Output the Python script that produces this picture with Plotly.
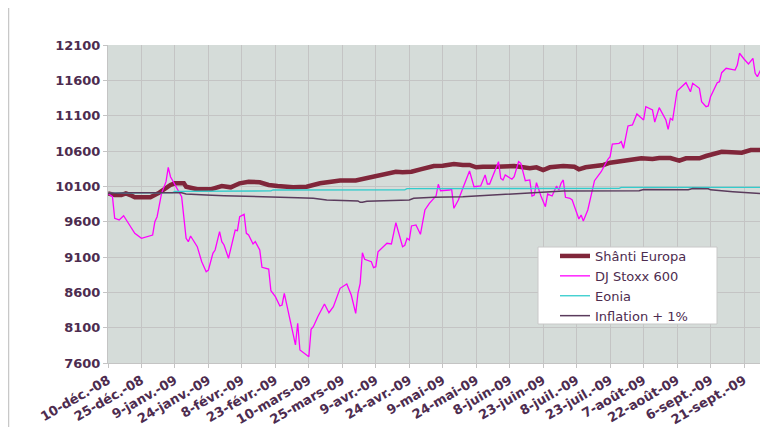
import plotly.graph_objects as go

# ---- data ----
stoxx_dates = [
    "2008-12-10","2008-12-12","2008-12-13","2008-12-15","2008-12-17","2008-12-18","2008-12-19","2008-12-22",
    "2008-12-25","2008-12-30","2008-12-31","2009-01-01","2009-01-03","2009-01-05","2009-01-06","2009-01-07",
    "2009-01-09","2009-01-12","2009-01-14","2009-01-15","2009-01-16","2009-01-19","2009-01-21","2009-01-23",
    "2009-01-24","2009-01-26","2009-01-27","2009-01-29","2009-01-30","2009-01-31","2009-02-02","2009-02-05",
    "2009-02-06","2009-02-07","2009-02-09","2009-02-10","2009-02-11","2009-02-13","2009-02-14","2009-02-16",
    "2009-02-17","2009-02-20","2009-02-21","2009-02-23","2009-02-25","2009-02-26","2009-02-27","2009-03-02",
    "2009-03-04","2009-03-05","2009-03-06","2009-03-10","2009-03-11","2009-03-12","2009-03-14","2009-03-17",
    "2009-03-19","2009-03-21","2009-03-24","2009-03-27","2009-03-29","2009-03-31","2009-04-01","2009-04-02",
    "2009-04-03","2009-04-04","2009-04-07","2009-04-08","2009-04-09","2009-04-10","2009-04-14","2009-04-16",
    "2009-04-18","2009-04-21","2009-04-22","2009-04-23","2009-04-24","2009-04-25","2009-04-27","2009-04-29",
    "2009-05-01","2009-05-03","2009-05-06","2009-05-07","2009-05-08","2009-05-12","2009-05-13","2009-05-14",
    "2009-05-16","2009-05-18","2009-05-21","2009-05-23","2009-05-26","2009-05-28","2009-05-29","2009-05-30",
    "2009-06-03","2009-06-04","2009-06-05","2009-06-06","2009-06-09","2009-06-10","2009-06-12","2009-06-13",
    "2009-06-15","2009-06-17","2009-06-18","2009-06-19","2009-06-20","2009-06-22","2009-06-24","2009-06-25",
    "2009-06-27","2009-06-29","2009-06-30","2009-07-01","2009-07-02","2009-07-03","2009-07-05","2009-07-06",
    "2009-07-08","2009-07-09","2009-07-10","2009-07-11","2009-07-13","2009-07-15","2009-07-16","2009-07-19",
    "2009-07-22","2009-07-23","2009-07-24","2009-07-27","2009-07-28","2009-07-29","2009-07-31","2009-08-02",
    "2009-08-04","2009-08-05","2009-08-07","2009-08-08","2009-08-11","2009-08-12","2009-08-14","2009-08-17",
    "2009-08-18","2009-08-19","2009-08-20","2009-08-22","2009-08-26","2009-08-28","2009-08-29","2009-09-01",
    "2009-09-02","2009-09-04","2009-09-05","2009-09-06","2009-09-09","2009-09-10","2009-09-11","2009-09-13",
    "2009-09-15","2009-09-17","2009-09-18","2009-09-19","2009-09-21","2009-09-23","2009-09-25","2009-09-26",
    "2009-09-27","2009-09-30","2009-10-01",
]
stoxx_values = [
    10000, 9953, 9648, 9624, 9684, 9624, 9585, 9435,
    9365, 9411, 9600, 9670, 10001, 10166, 10369, 10236,
    10119, 9953, 9365, 9317, 9397, 9246, 9033, 8892,
    8916, 9152, 9199, 9458, 9317, 9270, 9082, 9482,
    9472, 9670, 9704, 9435, 9411, 9284, 9317, 9199,
    8954, 8930, 8623, 8538, 8407, 8421, 8586, 8162,
    7855, 8162, 7784, 7689, 8077, 8114, 8255, 8435,
    8312, 8397, 8657, 8718, 8562, 8303, 8586, 8728,
    9161, 9067, 9033, 8949, 8963, 9175, 9294, 9284,
    9585, 9246, 9266, 9365, 9341, 9539, 9553, 9421,
    9765, 9860, 9963, 10129, 10038, 10048, 10058, 9789,
    9907, 10072, 10317, 10095, 10105, 10260, 10133, 10133,
    10449, 10214, 10190, 10260, 10200, 10236, 10449, 10426,
    10180, 10190, 9963, 9977, 10151, 9963, 9812, 9991,
    9963, 10105, 10048, 10143, 10190, 9945, 9931, 9907,
    9718, 9638, 9694, 9609, 9765, 10048, 10180, 10307,
    10483, 10519, 10699, 10709, 10732, 10638, 10954, 10968,
    11124, 11095, 11039, 11227, 11180, 11010, 11213, 11039,
    10907, 11063, 11039, 11449, 11567, 11439, 11558, 11487,
    11298, 11227, 11237, 11368, 11567, 11581, 11708, 11770,
    11756, 11746, 11817, 11983, 11902, 11831, 11912, 11700,
    11651, 11850, 11817,
]

shanti_dates = [
    "2008-12-10","2008-12-13","2008-12-16","2008-12-18","2008-12-20","2008-12-22","2008-12-29","2008-12-31",
    "2009-01-02","2009-01-07","2009-01-09","2009-01-13","2009-01-14","2009-01-19","2009-01-25","2009-01-30",
    "2009-02-03","2009-02-07","2009-02-11","2009-02-16","2009-02-20","2009-02-24","2009-03-03","2009-03-09",
    "2009-03-15","2009-03-20","2009-03-24","2009-03-31","2009-04-03","2009-04-09","2009-04-16","2009-04-18",
    "2009-04-21","2009-04-25","2009-04-29","2009-05-05","2009-05-09","2009-05-14","2009-05-18","2009-05-21",
    "2009-05-24","2009-05-27","2009-06-02","2009-06-10","2009-06-14","2009-06-17","2009-06-20","2009-06-23",
    "2009-06-26","2009-07-02","2009-07-07","2009-07-09","2009-07-12","2009-07-16","2009-07-20","2009-07-23",
    "2009-07-29","2009-08-02","2009-08-06","2009-08-11","2009-08-14","2009-08-19","2009-08-23","2009-08-26",
    "2009-09-01","2009-09-04","2009-09-08","2009-09-11","2009-09-20","2009-09-24","2009-10-01",
]
shanti_values = [
    10000, 9977, 9977, 10001, 9977, 9945, 9945, 9977,
    10010, 10119, 10143, 10143, 10095, 10058, 10058, 10105,
    10086, 10143, 10166, 10157, 10119, 10105, 10086, 10095,
    10143, 10166, 10183, 10183, 10204, 10246, 10284, 10307,
    10299, 10307, 10341, 10388, 10392, 10416, 10402, 10402,
    10369, 10378, 10378, 10388, 10369, 10355, 10369, 10331,
    10369, 10388, 10378, 10341, 10369, 10388, 10402, 10434,
    10458, 10473, 10497, 10487, 10501, 10501, 10463, 10497,
    10497, 10529, 10558, 10590, 10576, 10614, 10614,
]

eonia_dates = ["2008-12-10", "2008-12-15", "2009-01-08", "2009-01-09", "2009-02-21", "2009-02-22",
               "2009-04-22", "2009-04-23", "2009-07-27", "2009-07-28", "2009-10-01"]
eonia_values = [10000, 10005, 10012, 10030, 10035, 10048, 10050, 10068, 10070, 10085, 10085]

infl_dates = ["2008-12-10", "2008-12-20", "2009-01-12", "2009-01-14", "2009-01-23", "2009-01-31",
              "2009-03-05", "2009-03-12", "2009-03-18", "2009-04-01", "2009-04-02", "2009-04-03",
              "2009-04-05", "2009-04-10", "2009-04-24", "2009-04-26", "2009-05-05", "2009-05-18",
              "2009-05-28", "2009-06-08", "2009-07-02", "2009-08-05", "2009-08-07", "2009-08-27",
              "2009-08-29", "2009-09-05", "2009-09-06", "2009-09-16", "2009-09-22", "2009-10-01"]
infl_values = [10000, 10010, 10010, 9991, 9977, 9967,
               9939, 9931, 9907, 9893, 9874, 9874,
               9890, 9897, 9907, 9931, 9945, 9953,
               9973, 9991, 10034, 10038, 10055, 10052,
               10070, 10065, 10050, 10024, 10010, 9991]

tick_dates = ["2008-12-10", "2008-12-25", "2009-01-09", "2009-01-24", "2009-02-08", "2009-02-23",
              "2009-03-10", "2009-03-25", "2009-04-09", "2009-04-24", "2009-05-09", "2009-05-24",
              "2009-06-08", "2009-06-23", "2009-07-08", "2009-07-23", "2009-08-07", "2009-08-22",
              "2009-09-06", "2009-09-21"]
tick_labels = ["10-déc.-08", "25-déc.-08", "9-janv.-09", "24-janv.-09", "8-févr.-09", "23-févr.-09",
               "10-mars-09", "25-mars-09", "9-avr.-09", "24-avr.-09", "9-mai-09", "24-mai-09",
               "8-juin-09", "23-juin-09", "8-juil.-09", "23-juil.-09", "7-août-09", "22-août-09",
               "6-sept.-09", "21-sept.-09"]
y_ticks = [7600, 8100, 8600, 9100, 9600, 10100, 10600, 11100, 11600, 12100]
y_labels = ["7600", "8100", "8600", "9100", "9600", "10100", "10600", "11100", "11600", "12100"]

# ---- figure ----
text_col = "#4d2c4f"
grid_col = "#c4c4c4"

fig = go.Figure()
fig.add_trace(go.Scatter(x=shanti_dates, y=shanti_values, mode="lines", name="Shânti Europa",
                         line=dict(color="#80263a", width=4.5)))
fig.add_trace(go.Scatter(x=stoxx_dates, y=stoxx_values, mode="lines", name="DJ Stoxx 600",
                         line=dict(color="#ff00ff", width=1.3)))
fig.add_trace(go.Scatter(x=eonia_dates, y=eonia_values, mode="lines", name="Eonia",
                         line=dict(color="#33cccc", width=1.3)))
fig.add_trace(go.Scatter(x=infl_dates, y=infl_values, mode="lines", name="Inflation + 1%",
                         line=dict(color="#5a3b5c", width=1.5)))

# the page has an 8px body margin, so the figure is placed from (8, 8)
W, H = 760, 419
ML, MR, MT, MB = 100, 0, 37, 64
PW, PH = W - ML - MR, H - MT - MB  # 660 x 318


def px_x(sx):  # screen x -> paper
    return (sx - 8 - ML) / PW


def px_y(sy):  # screen y -> paper
    return (8 + MT + PH - sy) / PH


fig.update_layout(
    template="none",
    width=W, height=H,
    margin=dict(l=ML, r=MR, t=MT, b=MB),
    paper_bgcolor="white",
    plot_bgcolor="#d5dcd9",
    font=dict(family="DejaVu Sans", color=text_col),
    showlegend=True,
    legend=dict(
        x=px_x(555), y=px_y(241), xanchor="left", yanchor="top",
        bgcolor="rgba(0,0,0,0)", borderwidth=0,
        font=dict(family="DejaVu Sans", size=13, color=text_col),
        tracegroupgap=0,
    ),
    xaxis=dict(
        type="date",
        range=["2008-12-10", "2009-10-01 18:00"],
        tickmode="array", tickvals=tick_dates, ticktext=tick_labels,
        tickangle=-30,
        tickfont=dict(family="DejaVu Sans", size=13, color=text_col, weight="bold"),
        showgrid=True, gridcolor=grid_col, gridwidth=1,
        ticks="outside", ticklen=4, tickcolor=grid_col,
        showline=True, linecolor=grid_col, linewidth=1,
        zeroline=False, automargin=False,
    ),
    yaxis=dict(
        range=[7600, 12100],
        tickmode="array", tickvals=y_ticks, ticktext=y_labels,
        tickfont=dict(family="DejaVu Sans", size=13, color=text_col, weight="bold"),
        showgrid=True, gridcolor=grid_col, gridwidth=1,
        ticks="outside", ticklen=4, tickcolor=grid_col,
        showline=True, linecolor=grid_col, linewidth=1,
        zeroline=False, automargin=False,
    ),
    shapes=[
        dict(type="line", xref="paper", yref="paper",
             x0=px_x(8.5), x1=px_x(8.5), y0=px_y(440), y1=px_y(0),
             line=dict(color="#c8c8c8", width=1.5)),
        dict(type="rect", xref="paper", yref="paper", layer="above",
             x0=px_x(538), x1=px_x(717), y0=px_y(324), y1=px_y(247),
             fillcolor="white", line=dict(color="#c8c8c8", width=1)),
    ],
)

fig.write_html("out.html")
